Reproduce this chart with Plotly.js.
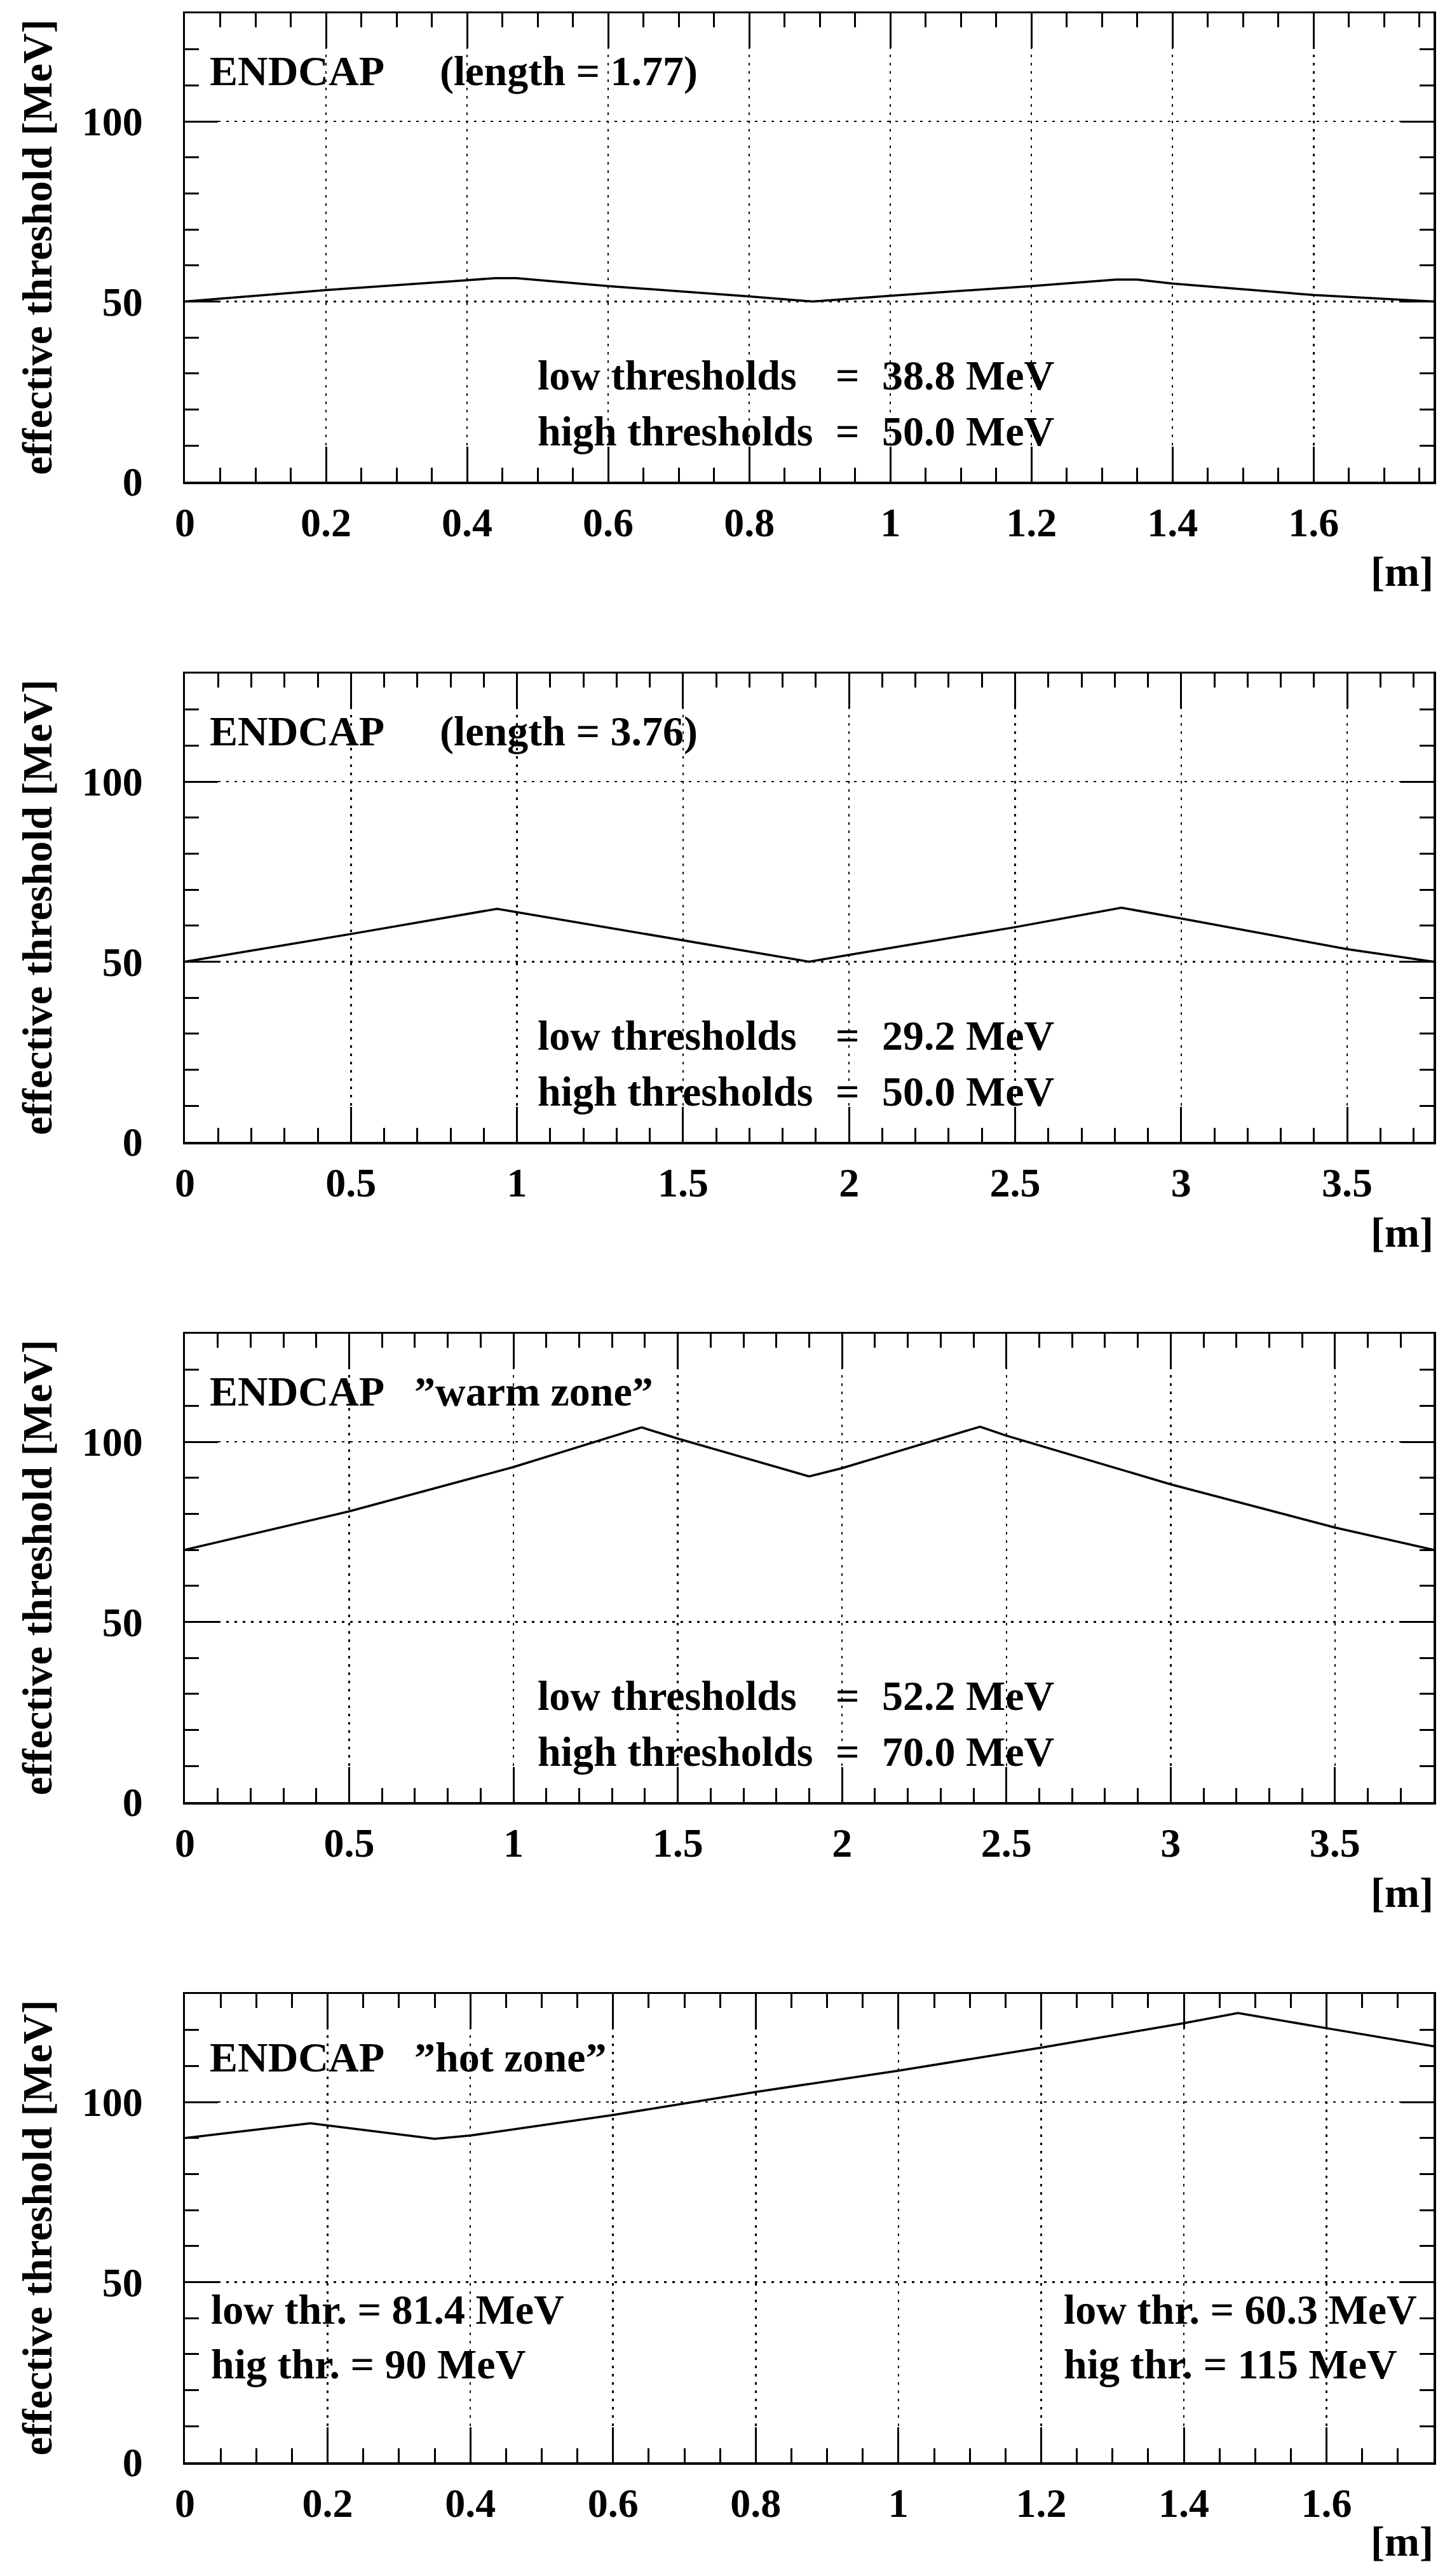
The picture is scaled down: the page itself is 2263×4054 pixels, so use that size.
<!DOCTYPE html>
<html>
<head>
<meta charset="utf-8">
<script src="https://cdn.plot.ly/plotly-3.0.1.min.js"></script>
<style>
  html, body { margin: 0; padding: 0; background: #ffffff; }
  #chart { width: 2263px; height: 4054px; }
</style>
</head>
<body>
<div id="chart"></div>
<script>
// ---------------- data ----------------
// Panel 1: ENDCAP (length = 1.77)
const x1 = [0, 0.2, 0.4, 0.44, 0.47, 0.6, 0.8, 0.89, 1.0, 1.2, 1.32, 1.35, 1.4, 1.6, 1.77];
const y1 = [50, 53.2, 55.9, 56.5, 56.5, 54.3, 51.4, 50, 51.6, 54.3, 56.1, 56.1, 55.0, 51.8, 50];
// Panel 2: ENDCAP (length = 3.76)
const x2 = [0, 0.5, 0.94, 1.5, 1.88, 2.0, 2.5, 2.82, 3.0, 3.5, 3.76];
const y2 = [50, 57.7, 64.7, 55.9, 50, 51.9, 59.6, 65.0, 62.0, 53.5, 50];
// Panel 3: ENDCAP "warm zone"
const x3 = [0, 0.5, 1.0, 1.39, 1.5, 1.9, 2.0, 2.42, 2.5, 3.0, 3.5, 3.8];
const y3 = [70, 80.7, 93.0, 104.0, 100.9, 90.4, 92.7, 104.2, 101.7, 88.2, 76.2, 70];
// Panel 4: ENDCAP "hot zone"
const x4 = [0, 0.176, 0.35, 0.4, 0.6, 0.8, 1.0, 1.2, 1.4, 1.476, 1.6, 1.75];
const y4 = [90, 94.1, 89.8, 90.7, 96.4, 102.8, 108.7, 115.1, 121.9, 124.7, 120.5, 115.5];

// axis extents and tick steps
const xMax = [1.77, 3.76, 3.8, 1.75];
const xMajor = [0.2, 0.5, 0.5, 0.2];
const xMinor = [0.05, 0.1, 0.1, 0.05];
const yRange = [0, 130];

// texts
const yTitle = 'effective threshold [MeV]';
const xUnit = '[m]';
const panelName = ['ENDCAP', 'ENDCAP', 'ENDCAP', 'ENDCAP'];
const panelSub = ['(length = 1.77)', '(length = 3.76)', '\u201Dwarm zone\u201D', '\u201Dhot zone\u201D'];
const lowLabel = 'low thresholds';
const highLabel = 'high thresholds';
const lowValue = ['38.8 MeV', '29.2 MeV', '52.2 MeV'];
const highValue = ['50.0 MeV', '50.0 MeV', '70.0 MeV'];
const hotLeft = ['low thr. = 81.4 MeV', 'hig thr. = 90 MeV'];
const hotRight = ['low thr. = 60.3 MeV', 'hig thr. = 115 MeV'];

// ---------------- layout ----------------
const W = 2263, H = 4054;
const FAM = 'Liberation Serif, Times New Roman, serif';
const font = (s) => ({ family: FAM, size: s, color: '#000', weight: 'bold' });
const px2x = (p) => p / W;
const px2y = (p) => 1 - p / H;

const tops = [21, 1060, 2099, 3138];
const PH = 737;
const xDom = [px2x(291), px2x(2256)];

const xs = [x1, x2, x3, x4];
const ys = [y1, y2, y3, y4];

const data = [];
const layout = {
  width: W, height: H,
  margin: { l: 0, r: 0, t: 0, b: 0 },
  paper_bgcolor: '#fff', plot_bgcolor: '#fff',
  showlegend: false, hovermode: false,
  annotations: []
};

for (let i = 0; i < 4; i++) {
  const n = i === 0 ? '' : String(i + 1);
  const xa = 'x' + n, ya = 'y' + n;
  data.push({
    type: 'scatter', mode: 'lines', x: xs[i], y: ys[i],
    xaxis: xa, yaxis: ya,
    line: { color: '#000', width: 3.5 }
  });
  const top = tops[i], bot = tops[i] + PH;
  layout['xaxis' + n] = {
    domain: xDom, range: [0, xMax[i]], anchor: ya,
    tick0: 0, dtick: xMajor[i],
    ticks: 'inside', ticklen: 55, tickwidth: 3, tickcolor: '#000',
    showline: true, linewidth: 3.5, linecolor: '#000', mirror: 'ticks',
    showgrid: true, gridcolor: '#000', gridwidth: 2.5, griddash: '4px,9px',
    zeroline: false,
    minor: { ticks: 'inside', ticklen: 22, tickwidth: 3, tickcolor: '#000', tick0: 0, dtick: xMinor[i], showgrid: false },
    tickfont: font(64), ticklabelstandoff: 6, fixedrange: true
  };
  layout['yaxis' + n] = {
    domain: [px2y(bot), px2y(top)], range: yRange, anchor: xa,
    tick0: 0, dtick: 50,
    ticks: 'inside', ticklen: 52, tickwidth: 3, tickcolor: '#000',
    showline: true, linewidth: 3.5, linecolor: '#000', mirror: 'ticks',
    showgrid: true, gridcolor: '#000', gridwidth: 2.5, griddash: '4px,9px',
    zeroline: false,
    minor: { ticks: 'inside', ticklen: 22, tickwidth: 3, tickcolor: '#000', tick0: 0, dtick: 10, showgrid: false },
    tickfont: font(64), ticklabelstandoff: 50, fixedrange: true
  };

  const A = layout.annotations;
  // y-axis title
  A.push({ text: yTitle, xref: 'paper', yref: 'paper', x: px2x(58), y: px2y((top + bot) / 2),
           xanchor: 'center', yanchor: 'middle', textangle: -90, showarrow: false, font: font(66) });
  // [m]
  A.push({ text: xUnit, xref: 'paper', yref: 'paper', x: px2x(2258), y: px2y(bot + (i === 3 ? 124 : 142)),
           xanchor: 'right', yanchor: 'middle', showarrow: false, font: font(66) });
  // panel label
  const labY = i === 3 ? 112.5 : 114;
  A.push({ text: panelName[i], xref: 'paper', yref: ya, x: px2x(328), y: labY,
           xanchor: 'left', yanchor: 'middle', showarrow: false, font: font(66) });
  A.push({ text: panelSub[i], xref: 'paper', yref: ya, x: px2x(i < 2 ? 690 : 650), y: labY,
           xanchor: 'left', yanchor: 'middle', showarrow: false, font: font(66) });

  if (i < 3) {
    const rows = [[lowLabel, lowValue[i], 29.5], [highLabel, highValue[i], 14]];
    rows.forEach(r => {
      A.push({ text: r[0], xref: 'paper', yref: ya, x: px2x(844), y: r[2],
               xanchor: 'left', yanchor: 'middle', showarrow: false, font: font(66) });
      A.push({ text: '=', xref: 'paper', yref: ya, x: px2x(1313), y: r[2],
               xanchor: 'left', yanchor: 'middle', showarrow: false, font: font(66) });
      A.push({ text: r[1], xref: 'paper', yref: ya, x: px2x(1386), y: r[2],
               xanchor: 'left', yanchor: 'middle', showarrow: false, font: font(66) });
    });
  } else {
    const rowY = [42.4, 27.2];
    for (let k = 0; k < 2; k++) {
      A.push({ text: hotLeft[k], xref: 'paper', yref: ya, x: px2x(330), y: rowY[k],
               xanchor: 'left', yanchor: 'middle', showarrow: false, font: font(66) });
      A.push({ text: hotRight[k], xref: 'paper', yref: ya, x: px2x(1672), y: rowY[k],
               xanchor: 'left', yanchor: 'middle', showarrow: false, font: font(66) });
    }
  }
}

Plotly.newPlot('chart', data, layout, { displayModeBar: false, staticPlot: true });
</script>
</body>
</html>
